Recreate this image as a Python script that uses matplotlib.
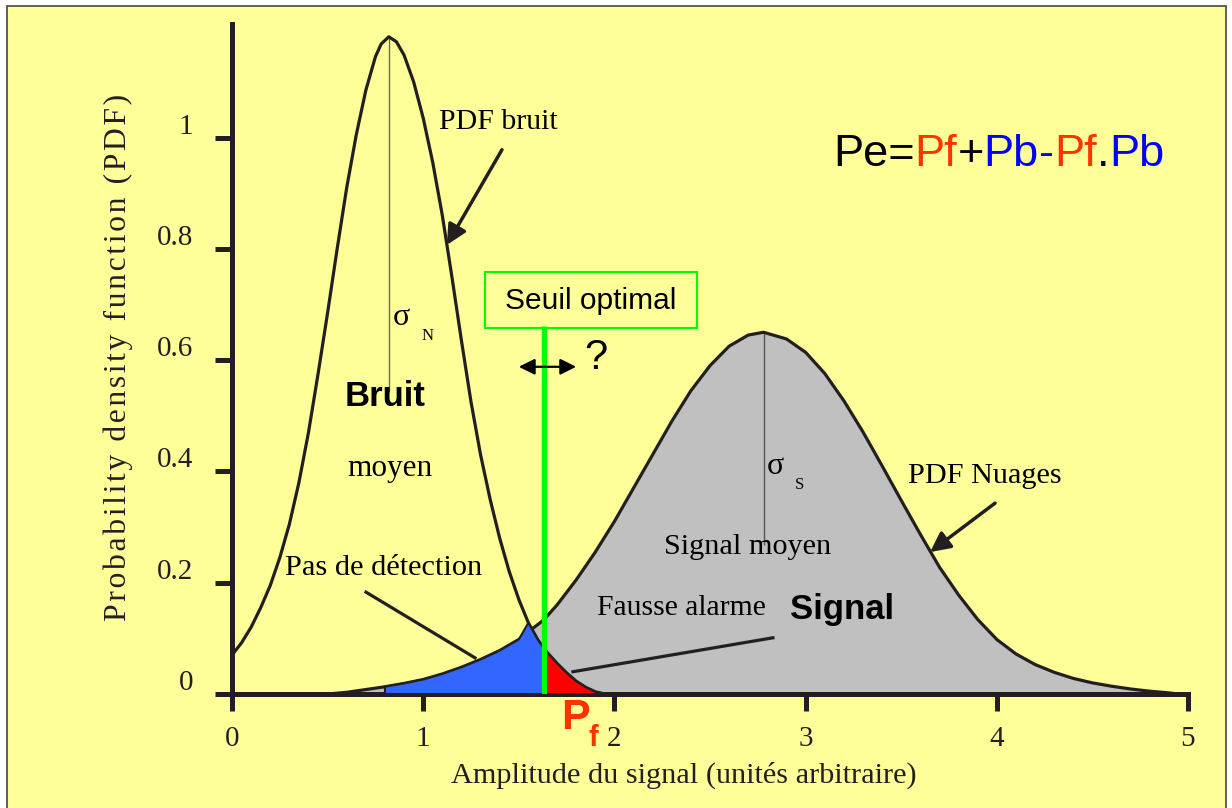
import numpy as np
import matplotlib
matplotlib.use('Agg')
import matplotlib.pyplot as plt
import matplotlib.patches as patches
from matplotlib.transforms import ScaledTranslation

# police
serif = ['Liberation Serif', 'DejaVu Serif']
sans = ['Liberation Sans', 'DejaVu Sans']
ink = '#231F20'

# PDF du bruit
noise_x = [0.00, 0.05, 0.10, 0.15, 0.20, 0.25, 0.30, 0.35, 0.40, 0.45, 0.50,
           0.55, 0.60, 0.65, 0.70, 0.75, 0.78, 0.82, 0.86, 0.90, 0.95, 1.00,
           1.05, 1.10, 1.15, 1.20, 1.25, 1.30, 1.35, 1.40, 1.45, 1.50, 1.55,
           1.60, 1.63, 1.65, 1.70, 1.75, 1.80, 1.85, 1.90, 1.95]
noise_y = [0.070, 0.092, 0.120, 0.155, 0.195, 0.245, 0.305, 0.380, 0.470, 0.575, 0.685,
           0.800, 0.910, 1.005, 1.085, 1.145, 1.168, 1.181, 1.172, 1.148, 1.100, 1.035,
           0.955, 0.860, 0.750, 0.635, 0.525, 0.430, 0.350, 0.280, 0.220, 0.170, 0.128,
           0.097, 0.083, 0.074, 0.055, 0.038, 0.023, 0.012, 0.004, 0.000]

# PDF des nuages (signal)
signal_x = [0.5, 0.6, 0.7, 0.8, 0.9, 1.0, 1.1, 1.2, 1.3, 1.4, 1.5, 1.55, 1.6, 1.63,
            1.7, 1.8, 1.9, 2.0, 2.1, 2.2, 2.3, 2.4, 2.5, 2.6, 2.7, 2.78, 2.9, 3.0,
            3.1, 3.2, 3.3, 3.4, 3.5, 3.6, 3.7, 3.8, 3.9, 4.0, 4.1, 4.2, 4.3, 4.4,
            4.5, 4.6, 4.7, 4.8, 4.9, 4.95]
signal_y = [0.000, 0.003, 0.008, 0.013, 0.019, 0.026, 0.036, 0.048, 0.062, 0.078, 0.098, 0.112, 0.125, 0.133,
            0.160, 0.205, 0.255, 0.310, 0.370, 0.430, 0.490, 0.545, 0.590, 0.625, 0.645, 0.650, 0.638, 0.614,
            0.576, 0.527, 0.471, 0.410, 0.348, 0.287, 0.228, 0.178, 0.134, 0.098, 0.072, 0.053, 0.039, 0.028,
            0.020, 0.014, 0.009, 0.005, 0.002, 0.000]

seuil = 1.63
noise_mean = 0.82
signal_mean = 2.78

x_ticks = [0, 1, 2, 3, 4, 5]
y_ticks = [0, 0.2, 0.4, 0.6, 0.8, 1]
y_labels = ['0', '0.2', '0.4', '0.6', '0.8', '1']

nx = np.array(noise_x)
ny = np.array(noise_y)
sx = np.array(signal_x)
sy = np.array(signal_y)

fig = plt.figure(figsize=(12.32, 8.08), dpi=100)
fig.patch.set_facecolor('white')
fig.patches.append(patches.Rectangle((7 / 1232, -0.01), 1219 / 1232, 1.01 - 6 / 808,
                                     transform=fig.transFigure, facecolor='#FFFF99',
                                     edgecolor='#444444', lw=1.2, zorder=-10))

ax = fig.add_axes([232 / 1232, 114 / 808, 956 / 1232, 670 / 808])
ax.set_facecolor('none')
ax.set_xlim(0, 5)
ax.set_ylim(0, 670 / 556.5)

# zones
ax.fill_between(sx, 0, sy, color='#C0C0C0', lw=0, zorder=1)

# pas de detection : signal sous le seuil
bx = list(sx[(sx >= 0.8) & (sx < 1.55)]) + list(nx[(nx >= 1.55) & (nx <= seuil)])
by = list(sy[(sx >= 0.8) & (sx < 1.55)]) + list(ny[(nx >= 1.55) & (nx <= seuil)])
blue = np.column_stack([[bx[0]] + bx + [seuil], [0] + by + [0]])
ax.add_patch(patches.Polygon(blue, closed=True, facecolor='#3366FF', edgecolor=ink, lw=1.5, zorder=4))

# fausse alarme : bruit au-dessus du seuil
m = nx >= seuil
red = np.column_stack([[seuil] + list(nx[m]), [0] + list(ny[m])])
ax.add_patch(patches.Polygon(red, closed=True, facecolor='#FF0000', edgecolor=ink, lw=1.5, zorder=4))

ax.plot(nx, ny, color=ink, lw=2.3, zorder=3)
ax.plot(sx, sy, color=ink, lw=2.3, zorder=3)

# seuil
ax.vlines(seuil, 0, 0.661, color='#00FF00', lw=3.8, zorder=5)
ax.add_patch(patches.Rectangle((1.323, 0.658), 1.109, 0.1, facecolor='none',
                               edgecolor='#00FF00', lw=1.5, zorder=5))
ax.text(1.878, 0.707, 'Seuil optimal', family=sans, fontsize=21.5, ha='center', va='center')
ax.annotate('', xy=(1.50, 0.588), xytext=(1.80, 0.588),
            arrowprops=dict(arrowstyle='<|-|>', color='black', lw=1.6, mutation_scale=24,
                            shrinkA=0, shrinkB=0), zorder=6)
ax.text(1.905, 0.603, '?', family=sans, fontsize=30, ha='center', va='center')

# sigmas
ax.vlines(noise_mean, 0.543, 1.18, color='#666666', lw=1.0, zorder=2)
ax.vlines(signal_mean, 0.268, 0.65, color='#555555', lw=1.0, zorder=2)
ax.text(0.842, 0.676, 'σ', family=serif, fontsize=23, ha='left', va='center')
ax.text(0.99, 0.643, 'N', family=serif, fontsize=12, ha='left', va='center')
ax.text(2.797, 0.408, 'σ', family=serif, fontsize=23, ha='left', va='center')
ax.text(2.945, 0.376, 'S', family=serif, fontsize=12, ha='left', va='center')

# textes
ax.text(0.80, 0.534, 'Bruit', family=sans, weight='bold', fontsize=25, ha='center', va='center')
ax.text(0.826, 0.406, 'moyen', family=serif, fontsize=22.5, ha='center', va='center')
ax.text(2.694, 0.264, 'Signal moyen', family=serif, fontsize=21.8, ha='center', va='center')
ax.text(3.19, 0.151, 'Signal', family=sans, weight='bold', fontsize=25, ha='center', va='center')
ax.text(1.391, 1.028, 'PDF bruit', family=serif, fontsize=21.5, ha='center', va='center')
ax.text(3.938, 0.392, 'PDF Nuages', family=serif, fontsize=21.8, ha='center', va='center')
ax.text(0.795, 0.226, 'Pas de détection', family=serif, fontsize=21.9, ha='center', va='center')
ax.text(2.348, 0.155, 'Fausse alarme', family=serif, fontsize=21.3, ha='center', va='center')

arrow = dict(arrowstyle='-|>', color=ink, lw=2.5, mutation_scale=30, shrinkA=0, shrinkB=0)
ax.annotate('', xy=(1.124, 0.807), xytext=(1.412, 0.978), arrowprops=arrow, zorder=6)
ax.annotate('', xy=(3.651, 0.255), xytext=(3.991, 0.343), arrowprops=arrow, zorder=6)
ax.plot([0.701, 1.271], [0.183, 0.065], color=ink, lw=2.3, zorder=6)
ax.plot([2.829, 1.783], [0.101, 0.040], color=ink, lw=2.3, zorder=6)

# Pf sous l'axe
ax.text(1.794, -0.043, 'P', family=sans, weight='bold', fontsize=31, color='#FF3300',
        ha='center', va='center', clip_on=False)
ax.text(1.888, -0.079, 'f', family=sans, weight='bold', fontsize=21, color='#FF3300',
        ha='center', va='center', clip_on=False)

# formule
parts = [('Pe=', 'black'), ('Pf', '#FF3300'), ('+', 'black'), ('Pb', '#0000FF'),
         ('-', '#0000FF'), ('Pf', '#FF3300'), ('.', 'black'), ('Pb', '#0000FF')]
t = ax.text(3.143, 0.933, parts[0][0], family=sans, fontsize=32.5, color=parts[0][1],
            ha='left', va='bottom')
for s, c in parts[1:]:
    t = ax.annotate(s, xy=(1, 0), xycoords=t, family=sans, fontsize=32.5, color=c,
                    ha='left', va='bottom')

# axes
for side in ['top', 'right']:
    ax.spines[side].set_visible(False)
for side in ['left', 'bottom']:
    ax.spines[side].set_linewidth(3.6)
    ax.spines[side].set_color(ink)
ax.set_xticks(x_ticks)
ax.set_xticklabels([str(v) for v in x_ticks])
ax.set_yticks(y_ticks)
ax.set_yticklabels(y_labels)
ax.tick_params(direction='out', length=12, width=3.6, color=ink, labelsize=21)
ax.tick_params(axis='x', pad=11)
ax.tick_params(axis='y', pad=16)
for lab in ax.get_xticklabels() + ax.get_yticklabels():
    lab.set_family(serif)
    lab.set_color(ink)
for lab in ax.get_yticklabels():
    lab.set_transform(lab.get_transform() + ScaledTranslation(0, 0.14, fig.dpi_scale_trans))

fig.text(684 / 1232, 1 - 775 / 808, 'Amplitude du signal (unités arbitraire)',
         family=serif, fontsize=21.8, color=ink, ha='center', va='center')
ylab = '\u200a'.join('Probability density function (PDF)')
fig.text(118 / 1232, 1 - 357 / 808, ylab, family=serif, fontsize=22.8, color=ink,
         rotation=90, ha='center', va='center')

fig.savefig('out.png', dpi=100)
